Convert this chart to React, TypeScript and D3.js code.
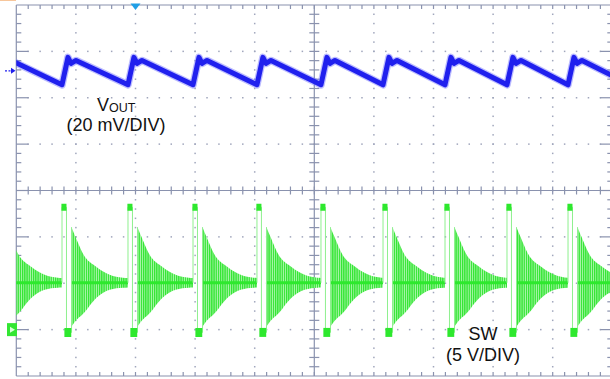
import React from 'react';
import * as d3 from 'd3';

const W = 610;
const H = 379;
const GRID = { left: 16.3, right: 612.3, top: 5, bottom: 376 };
const X_DIVS = 10;
const Y_DIVS = 8;

// Switching events (start of SW high pulse), in horizontal divisions
const pulseTimes = [-0.324, 0.767, 1.874, 2.965, 4.038, 5.112, 6.153, 7.193, 8.233, 9.257, 10.3];

// VOUT ripple, one cycle relative to the pulse start: offset (div), value (mV vs. ch1 offset)
const voutCycleOffsets = [0, 0.1, 0.151, 0.235];
const voutCycleMv = [-6.0, 5.8, 3.2, 4.5];
const ch1OffsetDiv = 2.58;
const ch1MvPerDiv = 20;

// SW node
const ch2OffsetDiv = -3;
const ch2VPerDiv = 5;
const swHigh = 13.2;
const swLow = -0.3;
const swMid = 5.05;
const swHighSpan = [-0.01, 0.075];
const swLowSpan = [0.04, 0.155];
const ringStartOffset = 0.16;
const ringEnvOffsets = [0, 0.07, 0.186, 0.42, 0.64, 0.86, 1.1];
const ringEnvTop = [6.0, 4.9, 3.2, 1.7, 0.86, 0.54, 0.45];
const ringEnvBottom = [4.7, 4.1, 3.4, 1.6, 0.75, 0.54, 0.45];

const triggerDiv = 2;

const GRID_LINE = '#8a92ae';
const GRID_DOT = '#a0a6bc';
const BLUE = '#2020ee';
const GREEN = '#2ee82e';
const GREEN_LIGHT = '#8ef08e';

export default function App() {
  const xS = d3.scaleLinear().domain([0, X_DIVS]).range([GRID.left, GRID.right]);
  const yDiv = d3.scaleLinear().domain([-Y_DIVS / 2, Y_DIVS / 2]).range([GRID.bottom, GRID.top]);
  const yV = d3.scaleLinear().domain([0, ch1MvPerDiv]).range([yDiv(ch1OffsetDiv), yDiv(ch1OffsetDiv + 1)]);
  const ySW = d3.scaleLinear().domain([0, ch2VPerDiv]).range([yDiv(ch2OffsetDiv), yDiv(ch2OffsetDiv + 1)]);

  const divW = xS(1) - xS(0);
  const divH = yDiv(0) - yDiv(1);
  const cx = xS(X_DIVS / 2);
  const cy = yDiv(0);

  // ---- grid elements ----
  const dots: JSX.Element[] = [];
  for (let k = 1; k < X_DIVS; k++) {
    if (k === X_DIVS / 2) continue;
    const x = xS(k);
    for (let j = 1; j < Y_DIVS * 5; j++) {
      const y = GRID.top + (j * divH) / 5;
      dots.push(<rect key={`v${k}-${j}`} x={x - 0.75} y={y - 0.75} width={1.5} height={1.5} fill={GRID_DOT} />);
    }
  }
  for (let k = 1; k < Y_DIVS; k++) {
    if (k === Y_DIVS / 2) continue;
    const y = yDiv(k - Y_DIVS / 2);
    for (let j = 1; j < X_DIVS * 5; j++) {
      const x = GRID.left + (j * divW) / 5;
      dots.push(<rect key={`h${k}-${j}`} x={x - 0.75} y={y - 0.75} width={1.5} height={1.5} fill={GRID_DOT} />);
    }
  }

  const ticks: JSX.Element[] = [];
  for (let j = 1; j < X_DIVS * 5; j++) {
    const x = GRID.left + (j * divW) / 5;
    ticks.push(<line key={`tt${j}`} x1={x} x2={x} y1={GRID.top} y2={GRID.top + 4} />);
    ticks.push(<line key={`tb${j}`} x1={x} x2={x} y1={GRID.bottom} y2={GRID.bottom - 4} />);
    ticks.push(<line key={`tc${j}`} x1={x} x2={x} y1={cy - 4} y2={cy + 4} />);
  }
  for (let j = 1; j < Y_DIVS * 5; j++) {
    const y = GRID.top + (j * divH) / 5;
    const major = j % 5 === 0;
    const len = major ? 12 : 5;
    ticks.push(<line key={`tl${j}`} x1={GRID.left} x2={GRID.left + len} y1={y} y2={y} />);
    ticks.push(<line key={`tr${j}`} x1={GRID.right} x2={GRID.right - len} y1={y} y2={y} />);
    ticks.push(<line key={`tm${j}`} x1={cx - 5} x2={cx + 5} y1={y} y2={y} />);
  }

  // ---- VOUT trace ----
  const voutPts: [number, number][] = [];
  pulseTimes.forEach((p, i) => {
    if (i === pulseTimes.length - 1) {
      voutPts.push([p, voutCycleMv[0]]);
      return;
    }
    voutCycleOffsets.forEach((o, k) => voutPts.push([p + o, voutCycleMv[k]]));
  });
  const voutLine = d3
    .line<[number, number]>()
    .x((d) => xS(d[0]))
    .y((d) => yV(d[1]));
  const voutPath = voutLine(voutPts) || '';

  // ---- SW trace ----
  const envTop = d3.scaleLinear().domain(ringEnvOffsets).range(ringEnvTop).clamp(true);
  const envBot = d3.scaleLinear().domain(ringEnvOffsets).range(ringEnvBottom).clamp(true);
  const lineXY = d3
    .line<[number, number]>()
    .x((d) => xS(d[0]))
    .y((d) => ySW(d[1]));
  type EnvPt = { t: number; top: number; bot: number };
  const ringArea = d3
    .area<EnvPt>()
    .x((d) => xS(d.t))
    .y0((d) => ySW(swMid - d.bot))
    .y1((d) => ySW(swMid + d.top))
    .curve(d3.curveMonotoneX);

  const swEls: JSX.Element[] = [];
  for (let i = 0; i < pulseTimes.length - 1; i++) {
    const p = pulseTimes[i];
    const next = pulseTimes[i + 1];
    const rs = p + ringStartOffset;
    const env: EnvPt[] = [];
    ringEnvOffsets.forEach((o, k) => {
      if (rs + o < next) env.push({ t: rs + o, top: ringEnvTop[k], bot: ringEnvBottom[k] });
    });
    env.push({ t: next, top: envTop(next - rs), bot: envBot(next - rs) });

    swEls.push(<path key={`ra${i}`} d={ringArea(env) || ''} fill="url(#ringPat)" />);
    swEls.push(
      <path
        key={`rc${i}`}
        d={lineXY([[rs, swMid], [next, swMid]]) || ''}
        stroke={GREEN}
        strokeWidth={3}
        fill="none"
      />
    );
    swEls.push(
      <path
        key={`ed${i}`}
        d={
          lineXY([
            [p, swMid],
            [p, swHigh],
            [p + swHighSpan[1], swHigh],
            [p + swHighSpan[1], swLow],
            [rs, swLow],
            [rs, swMid + ringEnvTop[0]],
          ]) || ''
        }
        stroke={GREEN_LIGHT}
        strokeWidth={1}
        fill="none"
      />
    );
    swEls.push(
      <path
        key={`hb${i}`}
        d={lineXY([[p + swHighSpan[0], swHigh], [p + swHighSpan[1], swHigh]]) || ''}
        stroke={GREEN}
        strokeWidth={7}
        fill="none"
      />
    );
    swEls.push(
      <path
        key={`lb${i}`}
        d={lineXY([[p + swLowSpan[0], swLow], [p + swLowSpan[1], swLow]]) || ''}
        stroke={GREEN}
        strokeWidth={9}
        fill="none"
      />
    );
  }

  const trigX = xS(triggerDiv);
  const ch1Y = yV(0);
  const ch2Y = ySW(0);
  const font = "'Liberation Sans', Arial, sans-serif";

  return (
    <svg
      width={W}
      height={H}
      viewBox={`0 0 ${W} ${H}`}
      style={{ position: 'absolute', left: 0, top: 0, background: '#ffffff' }}
    >
      <defs>
        <clipPath id="plotClip">
          <rect x={GRID.left} y={GRID.top} width={GRID.right - GRID.left} height={GRID.bottom - GRID.top} />
        </clipPath>
        <pattern id="ringPat" width={2.2} height={4} patternUnits="userSpaceOnUse">
          <rect width={2.2} height={4} fill="#b2f6b2" />
          <rect width={1.3} height={4} fill="#30e530" />
        </pattern>
      </defs>
      <rect x={0} y={0} width={W} height={H} fill="#ffffff" />
      <line x1={0} x2={16} y1={0.5} y2={0.5} stroke="#f2a15a" strokeWidth={1} opacity={0.6} />

      {/* grid */}
      <g>{dots}</g>
      <g stroke={GRID_LINE} strokeWidth={1.2}>
        <line x1={GRID.left} x2={GRID.right} y1={GRID.top} y2={GRID.top} />
        <line x1={GRID.left} x2={GRID.right} y1={GRID.bottom} y2={GRID.bottom} />
        <line x1={GRID.left} x2={GRID.left} y1={GRID.top} y2={GRID.bottom} />
        <line x1={GRID.right} x2={GRID.right} y1={GRID.top} y2={GRID.bottom} />
        <line x1={GRID.left} x2={GRID.right} y1={cy} y2={cy} />
        <line x1={cx} x2={cx} y1={GRID.top} y2={GRID.bottom} />
        {ticks}
      </g>

      {/* traces */}
      <g clipPath="url(#plotClip)">
        {swEls}
        <path d={voutPath} stroke="#6b6bff" strokeWidth={7.5} fill="none" opacity={0.45} strokeLinejoin="round" />
        <path d={voutPath} stroke={BLUE} strokeWidth={5} fill="none" strokeLinejoin="round" />
      </g>

      {/* markers */}
      <polygon
        points={`${trigX - 5},${GRID.top - 1.5} ${trigX + 5},${GRID.top - 1.5} ${trigX},${GRID.top + 5}`}
        fill="#1f9fe6"
      />
      <line x1={5} x2={12} y1={ch1Y} y2={ch1Y} stroke={BLUE} strokeWidth={1.2} strokeDasharray="2 1.5" />
      <polygon points={`${11},${ch1Y - 3} ${15.5},${ch1Y} ${11},${ch1Y + 3}`} fill={BLUE} />
      <rect x={7} y={ch2Y - 6.5} width={10} height={13} fill="#33e633" />
      <polygon points={`${10},${ch2Y - 3} ${15},${ch2Y} ${10},${ch2Y + 3}`} fill="#d8ffd8" />

      {/* labels */}
      <text x={97} y={111} fontFamily={font} fontSize={18} fill="#111">
        V
        <tspan fontSize={12.5} dy={1}>
          OUT
        </tspan>
      </text>
      <text x={116} y={131} fontFamily={font} fontSize={18} fill="#111" textAnchor="middle">
        (20 mV/DIV)
      </text>
      <text x={483} y={340} fontFamily={font} fontSize={18} fill="#111" textAnchor="middle">
        SW
      </text>
      <text x={483} y={361} fontFamily={font} fontSize={18} fill="#111" textAnchor="middle">
        (5 V/DIV)
      </text>
    </svg>
  );
}
